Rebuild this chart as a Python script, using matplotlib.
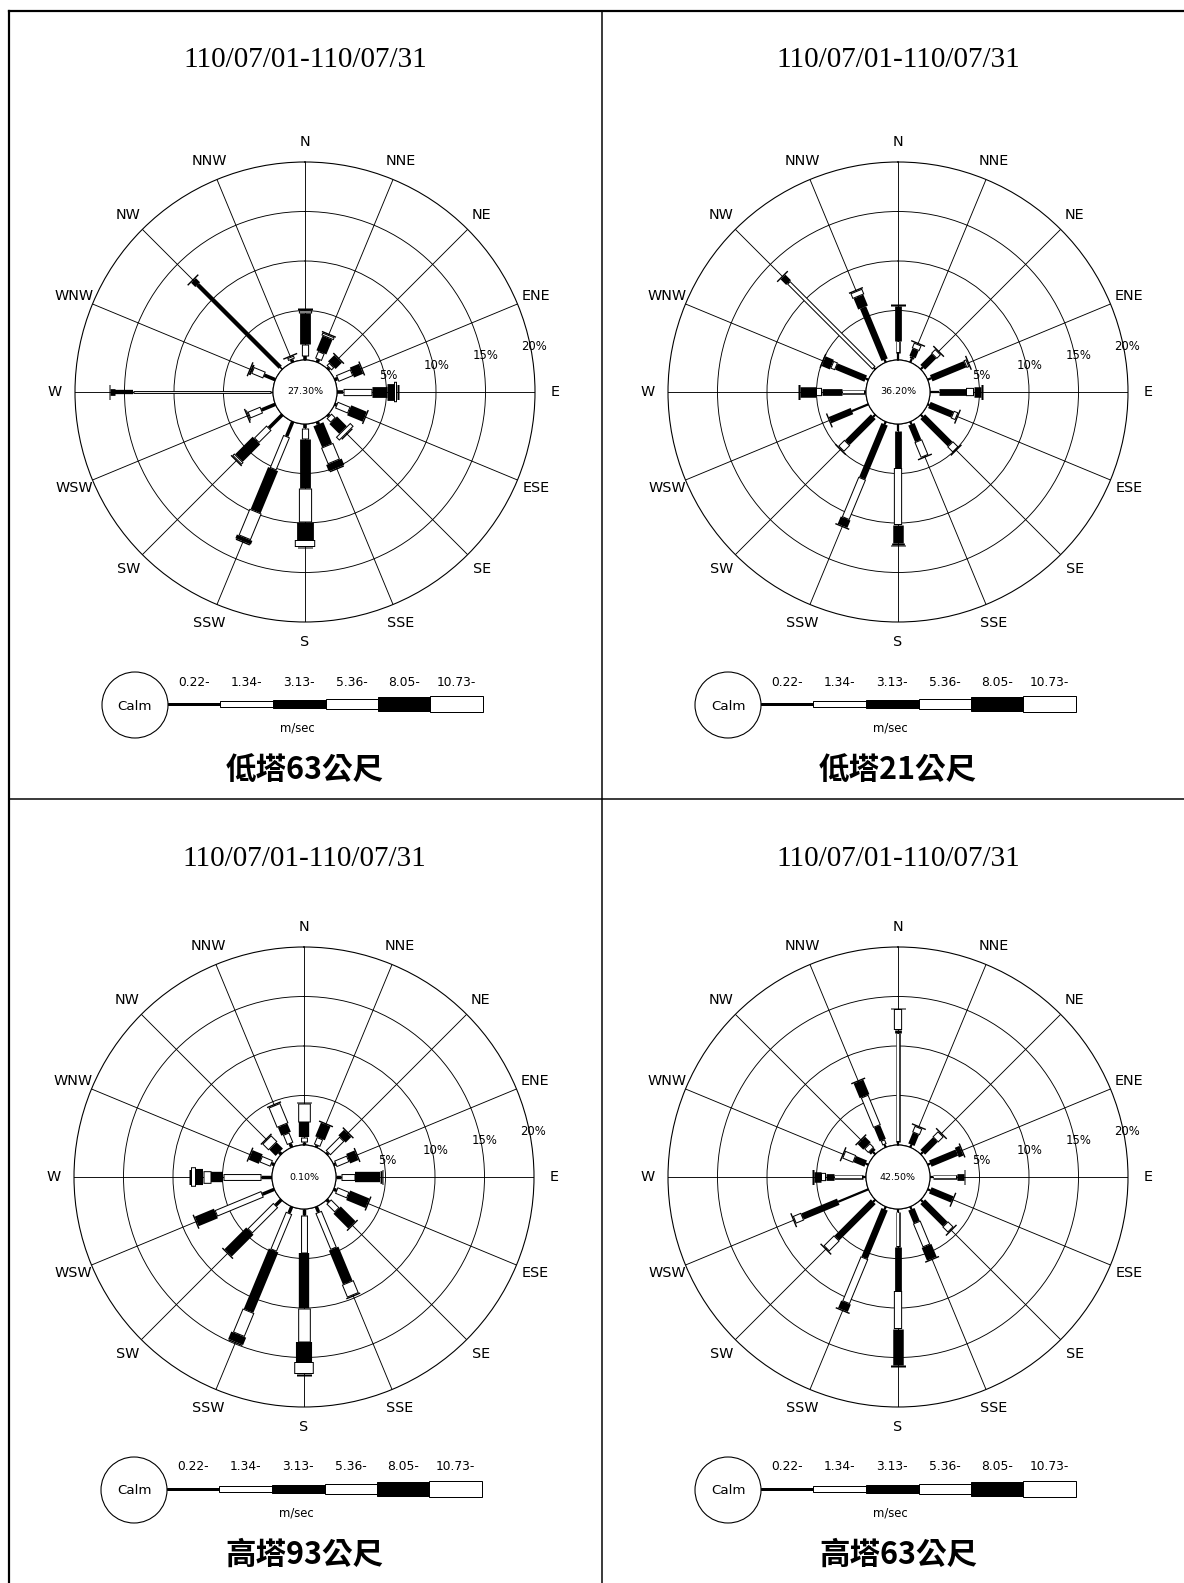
import numpy as np
import matplotlib
matplotlib.use("Agg")
import matplotlib.pyplot as plt
from matplotlib import font_manager
from matplotlib.patches import Circle, Rectangle

# ---- data (percent of hours, per direction, per speed class) ----
DIRS = ["N", "NNE", "NE", "ENE", "E", "ESE", "SE", "SSE",
        "S", "SSW", "SW", "WSW", "W", "WNW", "NW", "NNW"]
SPEED_LABELS = ["0.22-", "1.34-", "3.13-", "5.36-", "8.05-", "10.73-"]
RING_VALUES = [5, 10, 15, 20]
TITLE = "110/07/01-110/07/31"
STATIONS = ["低塔63公尺", "低塔21公尺", "高塔93公尺", "高塔63公尺"]
CALM = ["27.30%", "36.20%", "0.10%", "42.50%"]

# columns: 0.22-, 1.34-, 3.13-, 5.36-, 8.05-, 10.73- (m/sec)
rose_low63 = [
    [0.4, 1.2, 3.1, 0.4, 0.0, 0.0],
    [0.3, 0.8, 1.6, 0.3, 0.0, 0.0],
    [0.2, 0.4, 0.9, 0.0, 0.0, 0.0],
    [0.3, 1.6, 1.0, 0.0, 0.0, 0.0],
    [0.6, 2.9, 1.6, 0.0, 0.7, 0.3],
    [0.2, 1.4, 1.7, 0.0, 0.0, 0.0],
    [0.2, 0.6, 1.4, 0.0, 0.0, 0.5],
    [0.3, 0.0, 2.3, 1.8, 0.7, 0.0],
    [0.4, 1.1, 5.0, 3.4, 1.85, 0.65],
    [1.6, 3.6, 4.6, 2.9, 0.4, 0.0],
    [1.9, 1.8, 2.5, 0.3, 0.0, 0.0],
    [1.5, 1.4, 0.1, 0.0, 0.0, 0.0],
    [0.2, 13.9, 1.85, 0.0, 0.5, 0.0],
    [1.2, 1.3, 0.2, 0.0, 0.0, 0.0],
    [0.3, 0.0, 11.8, 0.0, 0.6, 0.0],
    [0.3, 0.3, 0.0, 0.0, 0.0, 0.0],
]
rose_low21 = [
    [0.7, 1.2, 3.6, 0.0, 0.0, 0.0],
    [0.4, 0.2, 0.8, 0.6, 0.0, 0.0],
    [0.3, 0.0, 1.6, 0.6, 0.0, 0.0],
    [0.4, 0.0, 3.7, 0.3, 0.0, 0.0],
    [0.9, 0.0, 2.7, 0.8, 0.8, 0.0],
    [0.2, 0.0, 2.5, 0.5, 0.0, 0.0],
    [0.3, 0.0, 3.9, 0.8, 0.0, 0.0],
    [0.3, 0.0, 1.8, 1.7, 0.0, 0.0],
    [0.7, 0.0, 3.7, 5.8, 1.8, 0.2],
    [0.3, 0.0, 5.9, 4.4, 0.8, 0.0],
    [0.3, 0.0, 3.7, 0.9, 0.0, 0.0],
    [1.8, 0.0, 2.4, 0.0, 0.0, 0.0],
    [0.1, 2.3, 2.0, 0.7, 1.6, 0.0],
    [0.3, 0.0, 3.2, 0.5, 0.9, 0.0],
    [0.2, 12.2, 0.8, 0.0, 0.0, 0.0],
    [0.3, 0.0, 5.7, 0.0, 1.2, 0.6],
]
rose_high93 = [
    [0.3, 0.5, 1.5, 1.9, 0.0, 0.0],
    [0.2, 0.8, 1.5, 0.0, 0.0, 0.0],
    [0.2, 2.0, 0.8, 0.0, 0.0, 0.0],
    [0.2, 1.4, 0.9, 0.0, 0.0, 0.0],
    [0.5, 1.4, 2.5, 0.2, 0.0, 0.0],
    [0.3, 1.3, 2.1, 0.0, 0.0, 0.0],
    [0.3, 1.2, 2.1, 0.0, 0.0, 0.0],
    [0.6, 4.0, 3.7, 1.4, 0.0, 0.0],
    [0.6, 3.8, 5.6, 3.4, 2.1, 1.2],
    [0.7, 4.1, 6.6, 2.6, 0.8, 0.0],
    [0.8, 3.7, 3.1, 0.0, 0.0, 0.0],
    [1.3, 5.1, 2.1, 0.0, 0.0, 0.0],
    [1.1, 3.8, 1.3, 0.8, 0.7, 0.5],
    [0.3, 1.2, 1.1, 0.0, 0.0, 0.0],
    [0.3, 0.0, 0.9, 0.9, 0.0, 0.0],
    [0.4, 1.1, 0.9, 2.2, 0.0, 0.0],
]
rose_high63 = [
    [0.3, 11.0, 0.3, 2.1, 0.0, 0.0],
    [0.3, 0.0, 1.2, 0.7, 0.0, 0.0],
    [0.3, 0.0, 1.8, 0.8, 0.0, 0.0],
    [0.3, 0.0, 2.9, 0.0, 0.5, 0.0],
    [0.3, 2.4, 0.7, 0.0, 0.0, 0.0],
    [0.3, 0.0, 2.4, 0.0, 0.0, 0.0],
    [0.3, 0.0, 3.2, 0.8, 0.0, 0.0],
    [0.3, 0.0, 1.4, 2.6, 1.4, 0.0],
    [0.3, 3.5, 4.5, 3.8, 3.7, 0.0],
    [0.3, 0.0, 5.3, 4.9, 0.8, 0.0],
    [0.3, 0.0, 5.2, 1.5, 0.0, 0.0],
    [3.3, 0.0, 3.9, 0.9, 0.0, 0.0],
    [0.3, 2.9, 0.8, 0.5, 0.8, 0.0],
    [0.3, 0.0, 1.2, 1.2, 0.0, 0.0],
    [0.3, 0.0, 0.3, 0.6, 0.8, 0.0],
    [0.3, 0.5, 1.5, 3.3, 1.6, 0.0],
]
ROSES = [rose_low63, rose_low21, rose_high93, rose_high63]

# ---- layout / style (pixels) ----
W, H = 1184, 1583
CENTERS = [(305, 392), (898, 392), (304, 1177), (898, 1177)]
TITLE_Y = [60, 859]
R0 = 32.0      # calm circle radius
K = 9.9        # px per percent
RMAX = 20
SEG_W = [3, 6, 9, 11, 14, 17]          # bar width per speed class
PANEL_SCALE = [1.2, 0.75, 1.15, 0.75]
NARROW_DIRS = {0: ["W", "NW"]}
CAP_W = 15
PT = 72.0 / 100.0   # px -> points at dpi 100

names = {f.name for f in font_manager.fontManager.ttflist}
if "Liberation Sans Narrow" in names:
    CAD, FS = "Liberation Sans Narrow", 1.0
else:
    CAD, FS = "DejaVu Sans", 0.8
SERIF = "Liberation Serif"
CJK = ["Noto Sans CJK TC", "DejaVu Sans"]

fig = plt.figure(figsize=(W / 100, H / 100), dpi=100)
bg = fig.add_axes([0, 0, 1, 1])
bg.set_xlim(0, W)
bg.set_ylim(H, 0)
bg.axis("off")

# frame
bg.plot([9, 9], [11, H], color="black", lw=2.2 * PT)
bg.plot([9, W], [11, 11], color="black", lw=2.2 * PT)
bg.plot([602, 602], [11, H], color="black", lw=1.5 * PT)
bg.plot([9, W], [799, 799], color="black", lw=1.5 * PT)

theta = np.deg2rad(np.arange(16) * 22.5)
rorg = -R0 / K
Rout = R0 + K * RMAX

for p, (cx, cy) in enumerate(CENTERS):
    rows = ROSES[p]
    ax = fig.add_axes([(cx - Rout) / W, 1 - (cy + Rout) / H, 2 * Rout / W, 2 * Rout / H],
                      projection="polar")
    ax.patch.set_alpha(0)
    ax.set_theta_zero_location("N")
    ax.set_theta_direction(-1)
    ax.set_ylim(0, RMAX)
    ax.set_rorigin(rorg)
    ax.set_xticks(theta)
    ax.set_xticklabels([])
    ax.set_yticks(RING_VALUES[:-1])
    ax.set_yticklabels([])
    ax.grid(True, color="black", lw=0.9 * PT)
    ax.set_axisbelow(True)
    ax.spines["polar"].set_linewidth(1.1 * PT)
    ax.spines["inner"].set_linewidth(1.1 * PT)
    tt = np.linspace(0, 2 * np.pi, 300)
    ax.plot(tt, np.zeros_like(tt), color="black", lw=1.1 * PT, zorder=3)

    d = 1.0 / K
    for i, th in enumerate(theta):
        vals = rows[i]
        sc = PANEL_SCALE[p]
        if DIRS[i] in NARROW_DIRS.get(p, []):
            sc *= 0.4
        start = 0.0
        for c, v in enumerate(vals):
            if v <= 0:
                continue
            end = start + v
            w = SEG_W[c] * sc
            ax.plot([th, th], [start, end], color="black", lw=w * PT,
                    solid_capstyle="butt", zorder=4)
            if c % 2 == 1 and v > 2.5 * d and w > 2.5:
                ax.plot([th, th], [start + d, end - d], color="white",
                        lw=(w - 2) * PT, solid_capstyle="butt", zorder=5)
            start = end
        ax.plot([th, th], [start, start + 1.4 * d], color="black",
                lw=CAP_W * PT, solid_capstyle="butt", zorder=6)

    # direction labels
    rlab = (250 - R0) / K
    for th, name in zip(theta, DIRS):
        ax.text(th, rlab, name, ha="center", va="center", fontsize=13 * FS,
                family=CAD, clip_on=False)
    # ring labels
    for rv in RING_VALUES:
        ax.text(np.deg2rad(78.7), rv + 0.35, f"{rv}%", ha="center", va="center",
                fontsize=10.5 * FS, family=CAD, clip_on=False, zorder=7)
    ax.text(0.5, 0.5, CALM[p], transform=ax.transAxes, ha="center", va="center",
            fontsize=8.5 * FS, family=CAD)

    # title and station name
    bg.text(cx, TITLE_Y[p // 2], TITLE, ha="center", va="center",
            fontsize=21, family=SERIF)
    bg.text(cx, cy + 378, STATIONS[p], ha="center", va="center",
            fontsize=22, family=CJK, fontweight="bold")

    # speed legend
    ly = cy + 312
    bg.add_patch(Circle((cx - 170, cy + 313), 33, fill=False, ec="black", lw=1.1 * PT))
    bg.text(cx - 170, cy + 314, "Calm", ha="center", va="center",
            fontsize=12 * FS, family=CAD)
    edges = [-137, -85, -32.5, 20.5, 72.5, 125, 178]
    heights = [2.3, 5.3, 7.7, 10.7, 14.3, 15.7]
    for c in range(6):
        x0, x1 = cx + edges[c], cx + edges[c + 1]
        h = heights[c]
        bg.add_patch(Rectangle((x0, ly - h / 2), x1 - x0, h,
                               fc="black" if c % 2 == 0 else "white",
                               ec="black", lw=1.0 * PT))
        bg.text((x0 + x1) / 2, cy + 290, SPEED_LABELS[c], ha="center", va="center",
                fontsize=11 * FS, family=CAD)
    bg.text(cx - 8, cy + 336, "m/sec", ha="center", va="center",
            fontsize=10.5 * FS, family=CAD)

fig.savefig("out.png", dpi=100)
